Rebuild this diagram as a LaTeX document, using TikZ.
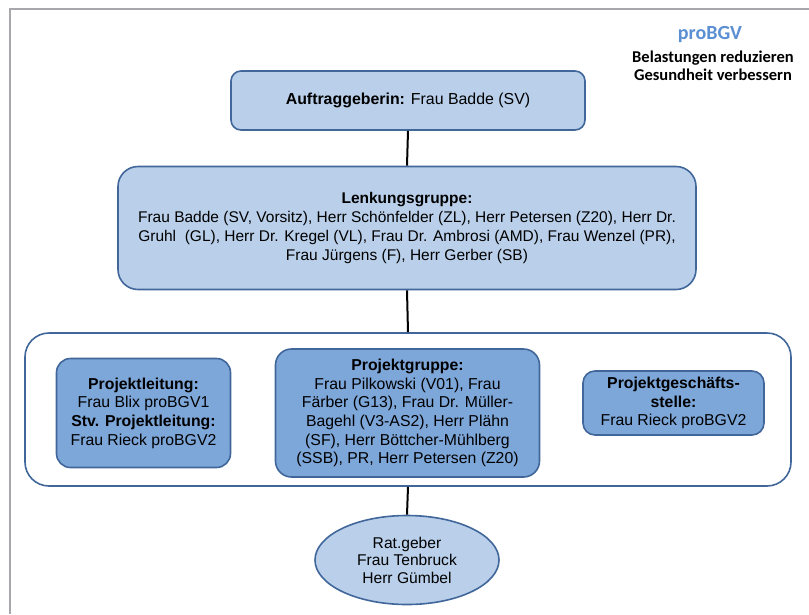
\documentclass[tikz,border=0pt]{standalone}
\usepackage{fontspec}
\setmainfont{Liberation Sans}
\newfontfamily\calibri{Carlito}
\usetikzlibrary{shapes.geometric}
\definecolor{lightfill}{HTML}{B9CFEA}
\definecolor{darkfill}{HTML}{7DA6D9}
\definecolor{edgeblue}{HTML}{41679A}
\definecolor{titleblue}{HTML}{5B8FD4}
\definecolor{framegray}{HTML}{A8A8AC}
\tikzset{
  boxbase/.style={draw=edgeblue, line width=1.6pt, align=center, inner sep=0pt,
    font=\fontsize{15.8}{18.7}\selectfont},
  lightbox/.style={boxbase, fill=lightfill, rectangle, rounded corners=10pt},
  darkbox/.style={boxbase, fill=darkfill, rectangle, rounded corners=14pt},
  containerbox/.style={draw=edgeblue, line width=1.6pt, fill=white, rectangle, rounded corners=24pt},
  linkline/.style={draw=black, line width=2pt},
}
\begin{document}
\begin{tikzpicture}[x=1pt,y=-1pt]
\useasboundingbox (0,0) rectangle (809,614);
\fill[white] (0,0) rectangle (809,614);
\draw[framegray, line width=2.5pt] (10,614) -- (10,9) -- (809,9);

\node[font=\calibri\bfseries\fontsize{20}{22}\selectfont, text=titleblue] (title) at (710,35) {proBGV};
\node[font=\calibri\bfseries\fontsize{16.5}{18.3}\selectfont, align=center] (slogan) at (713,66) {Belastungen reduzieren\\Gesundheit verbessern};

\node[lightbox, font=\fontsize{15.9}{19}\selectfont, minimum width=354, minimum height=59] (auftrag) at (408,100.5)
  {\textbf{Auftraggeberin:} Frau Badde (SV)};
\node[lightbox, rounded corners=20pt, font=\fontsize{15.5}{18.8}\selectfont, minimum width=578, minimum height=123] (lenk) at (407,228)
  {\textbf{Lenkungsgruppe:}\\Frau Badde (SV, Vorsitz), Herr Schönfelder (ZL), Herr Petersen (Z20), Herr Dr.\\Gruhl \ (GL), Herr Dr. Kregel (VL), Frau Dr. Ambrosi (AMD), Frau Wenzel (PR),\\Frau Jürgens (F), Herr Gerber (SB)};
\node[containerbox, minimum width=766, minimum height=153] (outer) at (408,409.5) {};
\node[darkbox, minimum width=174, minimum height=109] (leitung) at (143.5,413)
  {\textbf{Projektleitung:}\\Frau Blix proBGV1\\\textbf{Stv. Projektleitung:}\\Frau Rieck proBGV2};
\node[darkbox, rounded corners=16pt, minimum width=264, minimum height=128] (gruppe) at (407.5,413)
  {\textbf{Projektgruppe:}\\Frau Pilkowski (V01), Frau\\Färber (G13), Frau Dr. Müller-\\Bagehl (V3-AS2), Herr Plähn\\(SF), Herr Böttcher-Mühlberg\\(SSB), PR, Herr Petersen (Z20)};
\node[darkbox, rounded corners=12pt, minimum width=181, minimum height=64] (gs) at (673.5,403)
  {\textbf{Projektgeschäfts-}\\\textbf{stelle:}\\Frau Rieck proBGV2};
\node[boxbase, fill=lightfill, ellipse, font=\fontsize{15.6}{17.5}\selectfont, minimum width=184, minimum height=89] (rat) at (407,560)
  {Rat.geber\\Frau Tenbruck\\Herr Gümbel};

\draw[linkline] (auftrag.south) -- (lenk.north);
\draw[linkline] (lenk.south) -- (outer.north);
\draw[linkline] (outer.south) -- (rat.north);
\end{tikzpicture}
\end{document}
